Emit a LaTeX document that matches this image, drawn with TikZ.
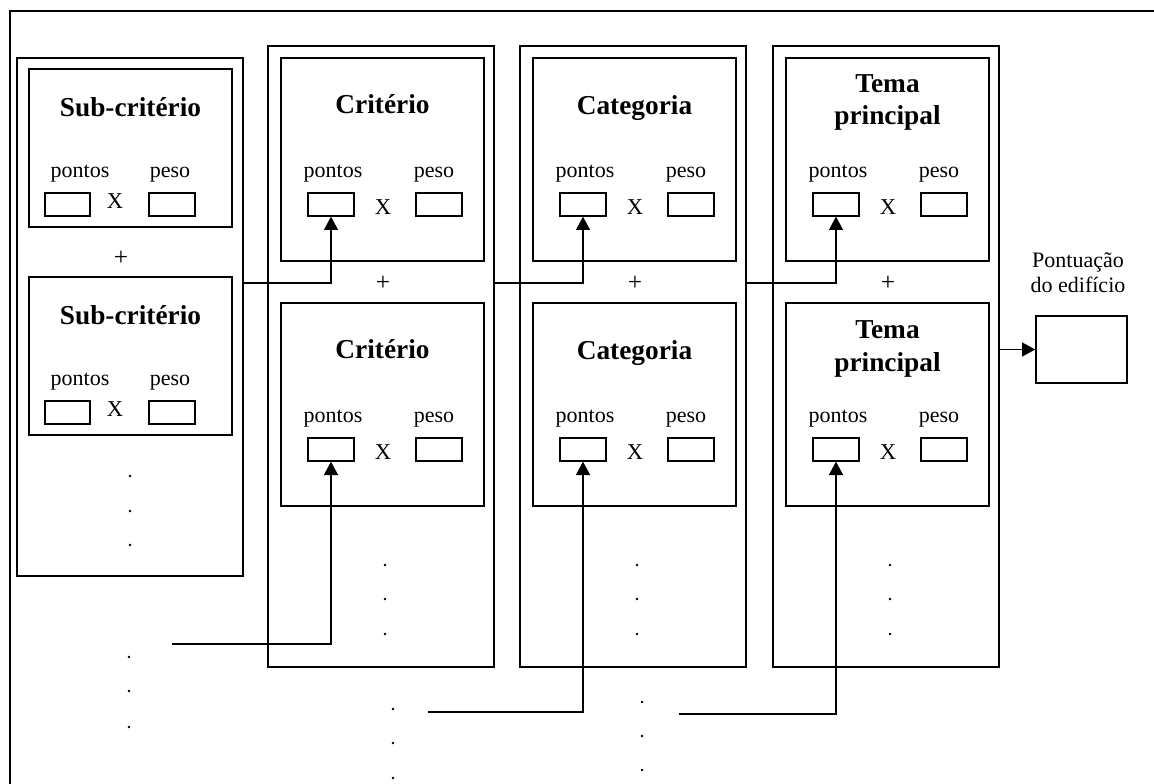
\documentclass[tikz,border=0pt]{standalone}
\usepackage{fontspec}
\setmainfont{Liberation Serif}
\usetikzlibrary{fit,arrows.meta}
\begin{document}
\begin{tikzpicture}[x=0.75pt,y=-0.75pt,
  frame/.style={draw,line width=1pt,inner sep=0pt},
  sbox/.style={draw,line width=1pt,inner sep=0pt},
  ttl/.style={font=\fontsize{20.5}{24.6}\selectfont\bfseries,inner sep=0pt,anchor=base},
  lbl/.style={font=\fontsize{16.5}{19.8}\selectfont,inner sep=0pt,anchor=base},
  times/.style={font=\fontsize{17}{20}\selectfont,inner sep=0pt},
  plus/.style={font=\fontsize{19}{22}\selectfont,inner sep=0pt},
  conn/.style={line width=1pt,-{Triangle[width=10.5pt,length=10pt]}},
  dot/.style={fill,circle,inner sep=0pt,minimum size=2pt},
]
\useasboundingbox (0,0) rectangle (1154,784);
\clip (0,0) rectangle (1154,784);
\draw[line width=1pt] (10,800) -- (10,11) -- (1170,11);

% column 1
\node[frame,fit={(17,58) (243,576)}] (col1) {};
\foreach \s/\T in {a/69,b/277}{
  \node[frame,fit={(29,\T) (232,\T+158)}] (c1\s) {};
  \node[ttl] (t1\s) at (130.5,\T+48) {Sub-critério};
  \node[lbl] (lp1\s) at (80,\T+109) {pontos};
  \node[lbl] (lw1\s) at (170,\T+109) {peso};
  \node[sbox,fit={(45,\T+124) (90,\T+147)}] (p1\s) {};
  \node[sbox,fit={(149,\T+124) (195,\T+147)}] (w1\s) {};
  \node[times] (x1\s) at (115,\T+132) {X};
}
\node[plus] (pl1) at (121,258) {+};
\foreach \y in {476,511,545} \node[dot] (d1-\y) at (130,\y) {};

% columns 2-4
\foreach \i/\L/\O in {2/281/268,3/533/520,4/786/773}{
  \node[frame,fit={(\O,46) (\O+226,667)}] (col\i) {};
  \foreach \s/\T in {a/58,b/303}{
    \node[frame,fit={(\L,\T) (\L+203,\T+203)}] (c\i\s) {};
    \node[lbl] (lp\i\s) at (\L+52,\T+120) {pontos};
    \node[lbl] (lw\i\s) at (\L+153,\T+120) {peso};
    \node[sbox,fit={(\L+27,\T+135) (\L+73,\T+158)}] (p\i\s) {};
    \node[sbox,fit={(\L+135,\T+135) (\L+181,\T+158)}] (w\i\s) {};
    \node[times] (x\i\s) at (\L+102,\T+149) {X};
  }
  \node[plus] (pl\i) at (\L+102,283) {+};
  \foreach \y in {565,599,634} \node[dot] (d\i-\y) at (\L+104,\y) {};
}

% titles
\node[ttl] (t2a) at (382.5,114) {Critério};
\node[ttl] (t2b) at (382.5,359) {Critério};
\node[ttl] (t3a) at (634.5,115) {Categoria};
\node[ttl] (t3b) at (634.5,360) {Categoria};
\node[ttl] (t4a1) at (887.5,93) {Tema};
\node[ttl] (t4a2) at (887.5,125) {principal};
\node[ttl] (t4b1) at (887.5,339) {Tema};
\node[ttl] (t4b2) at (887.5,372) {principal};

% result
\node[sbox,fit={(1036,316) (1127,383)}] (score) {};
\node[lbl] (s1) at (1078,268) {Pontuação};
\node[lbl] (s2) at (1078,293) {do edifício};

% connectors
\coordinate (h) at (0,283);
\draw[conn] (col1.east |- h) -| (p2a.south);
\draw[conn] (col2.east |- h) -| (p3a.south);
\draw[conn] (col3.east |- h) -| (p4a.south);
\draw[conn] (col4.east |- score.west) -- (score.west);

\coordinate (b1) at (172,644);
\coordinate (b2) at (428,712);
\coordinate (b3) at (679,714);
\draw[conn] (b1) -| (p2b.south);
\draw[conn] (b2) -| (p3b.south);
\draw[conn] (b3) -| (p4b.south);

% loose dots
\foreach \y in {657,691,727} \node[dot] (e1-\y) at (129,\y) {};
\foreach \y in {709,743,778} \node[dot] (e2-\y) at (393,\y) {};
\foreach \y in {702,736,770} \node[dot] (e3-\y) at (642,\y) {};
\end{tikzpicture}
\end{document}
